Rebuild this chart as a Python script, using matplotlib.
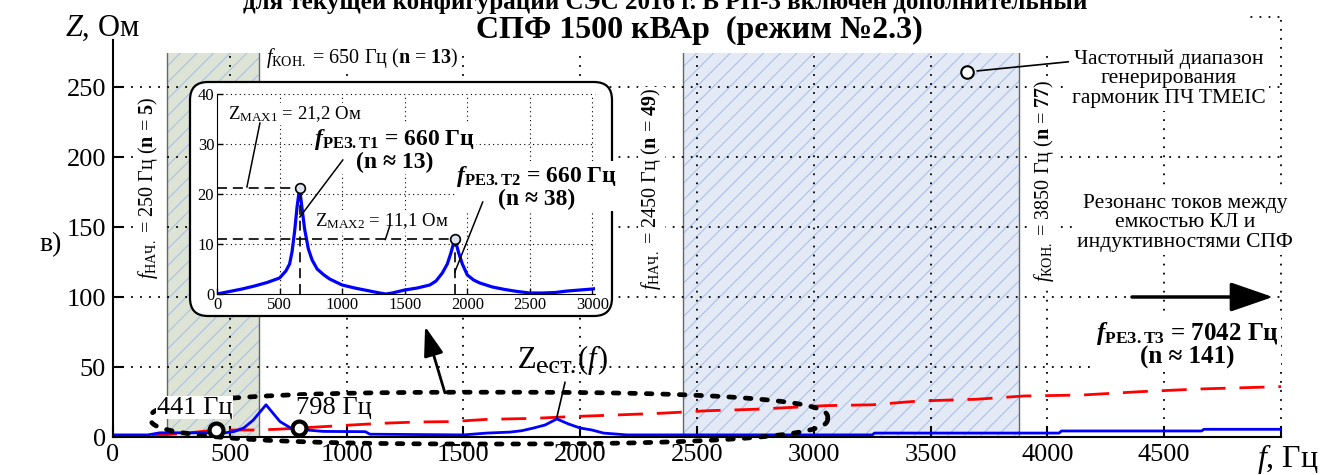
import numpy as np
import matplotlib
matplotlib.use("Agg")
import matplotlib.pyplot as plt
from matplotlib.patches import FancyBboxPatch, Rectangle
from matplotlib.transforms import IdentityTransform

plt.rcParams['font.family'] = ['Liberation Serif', 'DejaVu Serif']
plt.rcParams['mathtext.fontset'] = 'custom'
plt.rcParams['mathtext.rm'] = 'Liberation Serif'
plt.rcParams['mathtext.it'] = 'Liberation Serif:italic'
plt.rcParams['mathtext.bf'] = 'Liberation Serif:bold'
plt.rcParams['mathtext.bfit'] = 'Liberation Serif:bold:italic'
plt.rcParams['hatch.linewidth'] = 0.8

# main chart: Z_ест.(f) (blue) and red dashed curve
f_blue = [0, 150, 200, 480, 520, 560, 600, 630, 655, 680, 715, 760, 830, 900, 1080, 1100,
          1500, 1600, 1700, 1750, 1800, 1850, 1900, 1950, 2000, 2050, 2100, 2200,
          3250, 3260, 4050, 4060, 4660, 4670, 5000]
z_blue = [1.5, 1.5, 3, 3, 4, 6.5, 12, 18, 23, 18, 11, 6.5, 5, 4, 3.8, 2,
          1.5, 2.8, 3.5, 4.5, 6.4, 8.6, 12.9, 9.3, 6.4, 5, 2.8, 1.5,
          1.5, 2.8, 2.8, 4.3, 4.3, 5.5, 5.5]

f_red = [0, 150, 300, 441, 600, 700, 798, 950, 1150, 1300, 1450, 1600, 1800, 1950, 2150,
         2350, 2550, 2750, 3050, 3250, 3450, 3700, 3900, 4150, 4400, 4650, 4900, 5000]
z_red = [0.5, 0.8, 2.5, 5, 5, 5.5, 6.4, 7.9, 9.8, 10.7, 11, 12.6, 13.3, 14.5, 15.7,
         17, 18.8, 19.8, 22.4, 23, 25.7, 27, 29.3, 30, 32.4, 34.3, 35.5, 36]

cross_f = [441, 798]
cross_z = [5, 6.4]
cross_labels = ['441 Гц', '798 Гц']

# inset: zoomed impedance curve
f_in = [0, 100, 200, 300, 400, 500, 550, 580, 600, 620, 640, 660, 680, 700, 730, 760, 800,
        850, 900, 1000, 1100, 1200, 1300, 1350, 1400, 1500, 1600, 1700, 1750, 1800, 1840,
        1870, 1900, 1930, 1960, 2000, 2050, 2100, 2200, 2300, 2400, 2500, 2600, 2700, 2800,
        2900, 3000, 3030]
z_in = [0, 0.5, 1.0, 1.6, 2.3, 3.2, 4.6, 6.0, 8.5, 12.5, 17.5, 21.2, 17.0, 13.0, 9.0, 6.8, 5.0,
        3.9, 3.0, 1.8, 1.2, 0.7, 0.2, 0.0, 0.2, 0.8, 1.2, 1.8, 2.6, 4.2, 6.0,
        8.3, 11.1, 8.3, 6.0, 3.8, 2.8, 2.2, 1.4, 0.9, 0.5, 0.2, 0.2, 0.3, 0.6,
        0.8, 1.0, 1.1]
peak_f = [660, 1900]
peak_z = [21.2, 11.1]

green_band = (232, 625)
blue_band = (2440, 3880)

fig = plt.figure(figsize=(13.32, 4.75), dpi=100)
ax = fig.add_axes([113/1332, 1-437/475, 1168/1332, 420/475])
ax.set_xlim(0, 5000)
ax.set_ylim(0, 300)

# shaded bands
ax.axvspan(*green_band, fc='#dde3d5', ec='#a9c0e6', hatch='//', lw=0, zorder=0.3)
ax.axvspan(*blue_band, fc='#e4eaf5', ec='#a9c0e6', hatch='//', lw=0, zorder=0.3)
for x in list(green_band) + list(blue_band):
    ax.axvline(x, color='#666666', lw=1.0, zorder=0.4)

# dotted grid
dots = (0, (1, 4))
for y in range(50, 301, 50):
    ax.axhline(y, color='k', lw=1.3, ls=dots, zorder=0.5, clip_on=False)
for x in range(500, 5001, 500):
    ax.axvline(x, color='k', lw=1.3, ls=dots, zorder=0.5, clip_on=False)

# white mask at the top under the title
ax.add_patch(Rectangle((-20, 274.5), 4875, 40, fc='white', ec='none', zorder=1, clip_on=False))

ax.plot(f_red, z_red, color='red', lw=2.0, dashes=(9, 5), zorder=2)
ax.plot(f_blue, z_blue, color='blue', lw=2.0, zorder=2.2)
ax.plot(cross_f, cross_z, 'o', ms=10, mfc='white', mec='k', mew=3, zorder=4)
for x, t in zip([350, 945], cross_labels):
    ax.text(x, 21, t, fontsize=19, ha='center', va='center', zorder=3.5,
            bbox=dict(fc='white', ec='none', pad=0.3))

# dotted ellipse around low-frequency zone
t = np.linspace(0, 2*np.pi, 400)
n = 2.6
ex = 1610 + 1450*np.sign(np.cos(t))*np.abs(np.cos(t))**(2/n)
ey = 13.5 + 18.5*np.sign(np.sin(t))*np.abs(np.sin(t))**(2/n)
ax.plot(ex, ey, color='k', lw=3.4, dashes=(1.2, 2.3), dash_capstyle='round', clip_on=False,
        zorder=3)

ax.annotate('', xy=(1336, 79), xytext=(1421, 31.5),
            arrowprops=dict(arrowstyle='-|>,head_length=0.9,head_width=0.3', lw=2,
                            color='k', mutation_scale=20, shrinkA=0, shrinkB=0), zorder=3)

# Z_ест.(f) label, built from pieces so the subscript stays large
t1 = ax.text(1730, 44.5, 'Z', fontsize=22, ha='left', va='bottom', zorder=3)
t2 = ax.annotate('ест.', xy=(1, 0), xycoords=t1, xytext=(0, -2.5), textcoords='offset points',
                 fontsize=19, ha='left', va='bottom', zorder=3)
t3 = ax.annotate('(', xy=(1, 0), xycoords=t2, xytext=(1, 2.5), textcoords='offset points',
                 fontsize=22, ha='left', va='bottom', zorder=3)
t4 = ax.annotate('f', xy=(1, 0), xycoords=t3, xytext=(0, 0), textcoords='offset points',
                 fontsize=22, style='italic', ha='left', va='bottom', zorder=3)
ax.annotate(')', xy=(1, 0), xycoords=t4, xytext=(1, 0), textcoords='offset points',
            fontsize=22, ha='left', va='bottom', zorder=3)
ax.plot([1935, 1900], [39, 14], color='k', lw=1.2, zorder=3)

# band labels
lab_kw = dict(fontsize=14.5, rotation=90, ha='center', va='center', zorder=3,
              bbox=dict(fc='white', ec='none', pad=1))
ax.text(150, 178, r'$\mathit{f}_{\mathrm{НАЧ.}}$ = 250 Гц ($\mathbf{n}$ = $\mathbf{5}$)', **lab_kw)
ax.text(2305, 177, r'$\mathit{f}_{\mathrm{НАЧ.}}$ = 2450 Гц ($\mathbf{n}$ = $\mathbf{49}$)', **lab_kw)
ax.text(3985, 183, r'$\mathit{f}_{\mathrm{КОН.}}$ = 3850 Гц ($\mathbf{n}$ = $\mathbf{77}$)', **lab_kw)
ax.text(655, 271, r'$\mathit{f}_{\mathrm{КОН.}}$ = 650 Гц ($\mathbf{n}$ = $\mathbf{13}$)',
        fontsize=14.5, ha='left', va='center', zorder=3, bbox=dict(fc='white', ec='none', pad=1))

# TMEIC range note
ax.plot([3700, 4090], [261.5, 268], color='k', lw=1.2, zorder=3)
ax.plot([3656], [261], 'o', ms=9, mfc='white', mec='k', mew=1.5, zorder=4)
ax.text(4520, 256, 'Частотный диапазон\nгенерирования\nгармоник ПЧ TMEIC', fontsize=15.5,
        ha='center', va='center', linespacing=1.05, zorder=3,
        bbox=dict(fc='white', ec='none', pad=2))

ax.text(4590, 153, 'Резонанс токов между\nемкостью КЛ и\nиндуктивностями СПФ', fontsize=15.5,
        ha='center', va='center', linespacing=1.05, zorder=3,
        bbox=dict(fc='white', ec='none', pad=2))
ax.annotate('', xy=(4965, 100), xytext=(4362, 100),
            arrowprops=dict(arrowstyle='-|>,head_length=1.3,head_width=0.45', lw=2.5,
                            color='k', mutation_scale=20, shrinkA=0, shrinkB=0), zorder=3)
ax.text(4600, 66, '$\\mathbfit{f}_{\\mathbf{РЕЗ.Т3}}$ = 7042 Гц\n(n ≈ 141)', fontsize=18,
        fontweight='bold', ha='center', va='center', linespacing=0.95, zorder=3,
        bbox=dict(fc='white', ec='none', pad=1))

# axes styling
for s in ['top', 'right']:
    ax.spines[s].set_visible(False)
ax.spines['left'].set_bounds(0, 283.5)
ax.spines['left'].set_linewidth(1.5)
ax.spines['bottom'].set_linewidth(1.5)
ax.set_xticks(range(0, 5001, 500))
ax.set_xticklabels([str(v) for v in range(0, 4501, 500)] + [''])
ax.set_yticks(range(0, 251, 50))
ax.tick_params(direction='in', length=8, width=1.5, labelsize=19, pad=5)

fig.text(0.038, 1-245/475, 'в)', fontsize=20, ha='center', va='center')
fig.text(102/1332, 1-28/475, r'$\mathit{Z}$, Ом', fontsize=22, ha='center', va='center')
fig.text(1288/1332, 1-459/475, r'$\mathit{f}$, Гц', fontsize=23, ha='center', va='center')

fig.text(665/1332, 1-9/475, 'для текущей конфигурации СЭС 2016 г. В РП-3 включен дополнительный',
         fontsize=18, fontweight='bold', ha='center', va='baseline')
fig.text(699/1332, 1-38/475, 'СПФ 1500 кВАр  (режим №2.3)', fontsize=23, fontweight='bold',
         ha='center', va='baseline')

# inset frame
box = FancyBboxPatch((190, 475-316), 422, 234, boxstyle='round,pad=0,rounding_size=18',
                     fc='white', ec='k', lw=1.6, transform=IdentityTransform(), zorder=1)
fig.add_artist(box)

axi = fig.add_axes([217/1332, 1-294/475, 378/1332, 200/475], zorder=2)
axi.set_facecolor('none')
axi.set_xlim(0, 3020)
axi.set_ylim(0, 40)
fine = (0, (1, 3))
for y in [10, 20, 30, 40]:
    axi.axhline(y, color='k', lw=0.8, ls=fine, zorder=0.5, clip_on=False)
for x in range(500, 3001, 500):
    axi.axvline(x, color='k', lw=0.8, ls=fine, zorder=0.5)
axi.plot(f_in, z_in, color='blue', lw=2.3, zorder=2)
dash = (6, 3.5)
for pf, pz in zip(peak_f, peak_z):
    axi.plot([0, pf], [pz, pz], color='k', lw=1.2, dashes=dash, zorder=2.5)
    axi.plot([pf, pf], [0, pz], color='k', lw=1.2, dashes=dash, zorder=2.5)
axi.plot(peak_f, peak_z, 'o', ms=7, mfc='#dde3ee', mec='k', mew=1.2, zorder=3, clip_on=False)

axi.text(90, 36, r'$\mathrm{Z}_{\mathrm{MAX1}}$ = 21,2 Ом', fontsize=13.5, ha='left', va='center',
         zorder=3, bbox=dict(fc='white', ec='none', pad=1))
axi.plot([343, 239], [34.2, 21.4], color='k', lw=1.1, zorder=3)
axi.text(782, 14.6, r'$\mathrm{Z}_{\mathrm{MAX2}}$ = 11,1 Ом', fontsize=13.5, ha='left',
         va='center', zorder=3, bbox=dict(fc='white', ec='none', pad=0.5))
axi.plot([1380, 1345], [13.6, 10.9], color='k', lw=1.1, zorder=3)
axi.text(1420, 28.8, '$\\mathbfit{f}_{\\mathbf{РЕЗ.Т1}}$ = 660 Гц\n(n ≈ 13)', fontsize=17,
         fontweight='bold', ha='center', va='center', linespacing=1.0, zorder=3,
         bbox=dict(fc='white', ec='none', pad=0.5))
axi.plot([1005, 662], [26.8, 15.4], color='k', lw=1.1, zorder=3)
axi.text(2554, 21.4, '$\\mathbfit{f}_{\\mathbf{РЕЗ.Т2}}$ = 660 Гц\n(n ≈ 38)', fontsize=17,
         fontweight='bold', ha='center', va='center', linespacing=1.0, zorder=3,
         clip_on=False, bbox=dict(fc='white', ec='none', pad=0.5))
axi.plot([2123, 1900], [18.4, 4.4], color='k', lw=1.1, zorder=3)

for s in ['top', 'right']:
    axi.spines[s].set_visible(False)
axi.set_xticks(range(0, 3001, 500))
axi.set_yticks(range(0, 41, 10))
axi.tick_params(direction='in', length=4, width=1, labelsize=12, pad=2)

fig.savefig('out.png', dpi=100)
